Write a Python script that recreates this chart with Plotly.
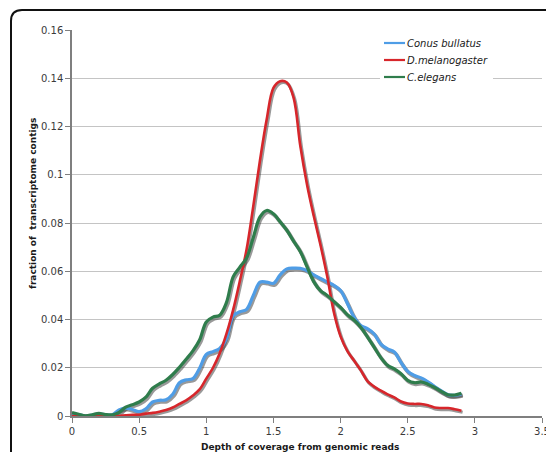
import plotly.graph_objects as go

# Coverage depth bins (step 0.05) and the fraction of contigs per bin
depth = [round(i * 0.05, 2) for i in range(59)]

conus_bullatus = [
    0.0010, 0.0005, 0.0001, 0.0004, 0.0009, 0.0005, 0.0005, 0.0025, 0.0033, 0.0027,
    0.0018, 0.0030, 0.0058, 0.0065, 0.0067, 0.0090, 0.0138, 0.0150, 0.0155, 0.0198,
    0.0255, 0.0267, 0.0280, 0.0320, 0.0415, 0.0432, 0.0442, 0.0500, 0.0555, 0.0555,
    0.0550, 0.0585, 0.0610, 0.0613, 0.0612, 0.0603, 0.0585, 0.0570, 0.0556, 0.0542,
    0.0520, 0.0467, 0.0410, 0.0375, 0.0362, 0.0340, 0.0298, 0.0278, 0.0265, 0.0222,
    0.0185, 0.0168, 0.0158, 0.0142, 0.0122, 0.0104, 0.0088, 0.0086, 0.0090,
]

d_melanogaster = [
    0.0000, 0.0000, 0.0000, 0.0000, 0.0000, 0.0000, 0.0000, 0.0000, 0.0003, 0.0005,
    0.0005, 0.0010, 0.0013, 0.0018, 0.0025, 0.0035, 0.0050, 0.0065, 0.0085, 0.0110,
    0.0155, 0.0200, 0.0260, 0.0340, 0.0440, 0.0560, 0.0690, 0.0870, 0.1060, 0.1230,
    0.1360, 0.1388, 0.1382, 0.1320, 0.1120, 0.0960, 0.0830, 0.0710, 0.0580, 0.0430,
    0.0330, 0.0270, 0.0230, 0.0190, 0.0145, 0.0122, 0.0105, 0.0090, 0.0077, 0.0060,
    0.0052, 0.0050, 0.0050, 0.0045, 0.0035, 0.0033, 0.0033, 0.0028, 0.0022,
]

c_elegans = [
    0.0014, 0.0007, 0.0001, 0.0005, 0.0011, 0.0006, 0.0005, 0.0015, 0.0037, 0.0047,
    0.0058, 0.0078, 0.0115, 0.0133, 0.0148, 0.0172, 0.0202, 0.0235, 0.0270, 0.0315,
    0.0390, 0.0410, 0.0418, 0.0470, 0.0577, 0.0617, 0.0655, 0.0740, 0.0825, 0.0852,
    0.0838, 0.0805, 0.0770, 0.0725, 0.0682, 0.0619, 0.0557, 0.0520, 0.0500, 0.0475,
    0.0450, 0.0420, 0.0398, 0.0368, 0.0328, 0.0285, 0.0242, 0.0210, 0.0195, 0.0175,
    0.0148, 0.0138, 0.0141, 0.0132, 0.0118, 0.0102, 0.0088, 0.0087, 0.0094,
]

series_names = ["Conus bullatus", "D.melanogaster", "C.elegans"]
series_values = [conus_bullatus, d_melanogaster, c_elegans]
series_colors = ["#4f9de6", "#d7262b", "#2f7d4c"]
series_widths = [3.2, 2.6, 3.2]

x_ticks = [0, 0.5, 1, 1.5, 2, 2.5, 3, 3.5]
y_ticks = [0, 0.02, 0.04, 0.06, 0.08, 0.1, 0.12, 0.14, 0.16]

X_RANGE = [0, 3.5]
Y_RANGE = [0, 0.16]

W, H = 546, 452
M_L, M_R, M_T, M_B = 72, 4, 30, 36
plot_w = W - M_L - M_R
plot_h = H - M_T - M_B


def px_x(p):
    """page pixel column -> paper x"""
    return (p - M_L) / plot_w


def px_y(p):
    """page pixel row -> paper y"""
    return ((H - M_B) - p) / plot_h


# drop shadow: same data on a base axis pair whose ranges are nudged a pixel or so
sx = 1.2 * (X_RANGE[1] - X_RANGE[0]) / plot_w
sy = 1.6 * (Y_RANGE[1] - Y_RANGE[0]) / plot_h

fig = go.Figure()

for name, vals, w in zip(series_names, series_values, series_widths):
    fig.add_trace(go.Scatter(
        x=depth, y=vals, mode="lines", showlegend=False, hoverinfo="skip",
        line=dict(color="rgba(70,70,70,0.55)", width=w + 0.6, shape="spline", smoothing=1),
        xaxis="x", yaxis="y",
    ))

for name, vals, col, w in zip(series_names, series_values, series_colors, series_widths):
    fig.add_trace(go.Scatter(
        x=depth, y=vals, mode="lines", name=name, showlegend=False,
        line=dict(color=col, width=w, shape="spline", smoothing=1),
        xaxis="x2", yaxis="y2",
    ))

tick_font = dict(family="DejaVu Sans", size=10, color="#3a3a3a")

fig.update_layout(
    width=W, height=H,
    margin=dict(l=M_L, r=M_R, t=M_T, b=M_B, autoexpand=False),
    paper_bgcolor="white", plot_bgcolor="white",
    showlegend=False,
    xaxis=dict(range=[X_RANGE[0] - sx, X_RANGE[1] - sx], visible=False, fixedrange=True,
               automargin=False),
    yaxis=dict(range=[Y_RANGE[0] + sy, Y_RANGE[1] + sy], visible=False, fixedrange=True,
               automargin=False),
    xaxis2=dict(
        range=X_RANGE, overlaying="x", anchor="y2", side="bottom",
        tickvals=x_ticks, ticktext=[f"{v:g}" for v in x_ticks],
        showgrid=False, zeroline=False,
        showline=True, linecolor="#7f7f7f", linewidth=1.5,
        ticks="outside", ticklen=5, tickcolor="#7f7f7f", tickwidth=1.2,
        tickfont=tick_font, ticklabeloverflow="allow", automargin=False,
    ),
    yaxis2=dict(
        range=Y_RANGE, overlaying="y", anchor="x2", side="left",
        tickvals=y_ticks, ticktext=[f"{v:g}" for v in y_ticks],
        showgrid=True, gridcolor="#c4c4c4", gridwidth=1,
        zeroline=False,
        showline=True, linecolor="#7f7f7f", linewidth=1.5,
        ticks="outside", ticklen=5, tickcolor="#7f7f7f", tickwidth=1.2,
        tickfont=tick_font, automargin=False,
    ),
)

# legend block: white box over the grid, short line keys and italic names
fig.add_shape(type="rect", xref="paper", yref="paper",
              x0=px_x(380), x1=px_x(493), y0=px_y(85), y1=px_y(34),
              fillcolor="white", line=dict(width=0), layer="above")
legend_rows = [43, 60, 77]
for name, col, row in zip(series_names, series_colors, legend_rows):
    fig.add_shape(type="line", xref="paper", yref="paper",
                  x0=px_x(384), x1=px_x(405), y0=px_y(row), y1=px_y(row),
                  line=dict(color=col, width=2.2), layer="above")
    fig.add_annotation(
        text=f"<i>{name}</i>", xref="paper", yref="paper",
        x=px_x(405), y=px_y(row), xanchor="left", yanchor="middle",
        showarrow=False, font=dict(family="DejaVu Sans", size=10, color="#202020"),
    )

# axis titles
fig.add_annotation(
    text="<b>Depth of coverage from genomic reads</b>",
    xref="paper", yref="paper",
    x=px_x(300), y=px_y(447),
    xanchor="center", yanchor="middle", showarrow=False,
    font=dict(family="DejaVu Sans", size=9, color="#1a1a1a"),
)
fig.add_annotation(
    text="<b>fraction of  transcriptome contigs</b>",
    xref="paper", yref="paper",
    x=px_x(33), y=px_y(204),
    xanchor="center", yanchor="middle", showarrow=False, textangle=-90,
    font=dict(family="DejaVu Sans", size=9, color="#1a1a1a"),
)

# rounded outer frame, open to the right and bottom of the page
fx0 = px_x(11)
fy0 = px_y(10)
rx = 11 / plot_w
ry = 11 / plot_h
frame_path = (
    f"M {fx0},{-0.3} L {fx0},{fy0 - ry} "
    f"Q {fx0},{fy0} {fx0 + rx},{fy0} L {1.2},{fy0}"
)
fig.add_shape(type="path", path=frame_path, xref="paper", yref="paper",
              line=dict(color="#111111", width=2), layer="above")

fig.write_html("out.html")
